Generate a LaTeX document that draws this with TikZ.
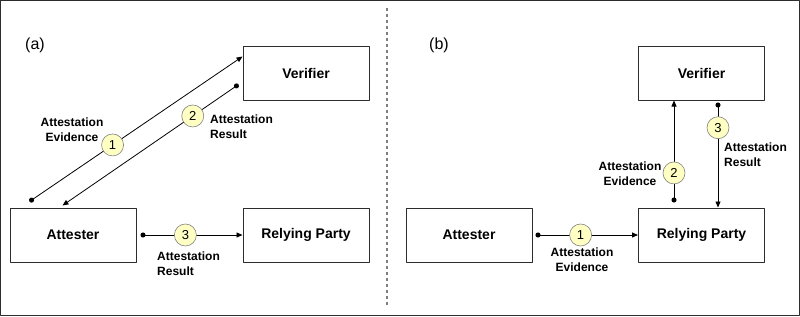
\documentclass[tikz,border=0pt]{standalone}
\usepackage{fontspec}
\setmainfont{Liberation Sans}
\usepackage{tikz}
\usetikzlibrary{arrows.meta, positioning, calc}
\definecolor{BadgeYellow}{RGB}{255, 255, 196}
\definecolor{LineGray}{RGB}{45, 45, 45}
\tikzset{every node/.style={font=\bfseries\fontsize{12}{15}\selectfont}, every path/.style={line cap=round, line join=round}, >={Triangle[length=6pt, width=5pt]}}
\tikzset{
    entity/.style={draw=LineGray, line width=1pt, minimum width=126pt, minimum height=54pt, inner sep=0pt, font=\bfseries\fontsize{14}{16}\selectfont},
    badge/.style={circle, draw=gray, line width=0.6pt, fill=BadgeYellow, minimum size=22pt, inner sep=0pt, font=\fontsize{13}{13}\selectfont},
    flow/.style={{Circle[length=5pt]}->, line width=0.8pt},
    msg/.style={align=left, inner sep=0pt},
    panel/.style={font=\fontsize{16}{18}\selectfont}
}

\begin{document}
\begin{tikzpicture}[x=1pt, y=-1pt]
    \useasboundingbox (0,0) rectangle (800,316);
    \draw [LineGray, line width=1.2pt] (0.6,0.6) rectangle (799.4,315.4);

    % (a) passport style
    \node [panel] (capA) at (35,45) {(a)};
    \node [entity] (verA) at (306,73) {Verifier};
    \node [entity] (attA) at (73,235) {Attester};
    \node [entity] (rpA) at (306,235) {Relying Party};

    \draw [flow] ($(attA.north west)+(20,-6)$) -- node [badge, pos=0.39] (a1) {1} ($(verA.north west)+(0,11)$);
    \draw [flow] ($(verA.south west)+(-4,-16)$) -- node [badge, pos=0.26] (a2) {2} ($(attA.north west)+(53,-2)$);
    \draw [flow] ($(attA.east)+(4,0)$) -- node [badge, pos=0.44] (a3) {3} (rpA.west);

    \node [msg, align=center] (evA) at (72,130) {Attestation\\Evidence};
    \node [msg, anchor=west] (resA) at (210,127) {Attestation\\Result};
    \node [msg, anchor=west] (resA2) at (157,264) {Attestation\\Result};

    % divider
    \coordinate (divTop) at (387,8);
    \coordinate (divBot) at (387,307);
    \draw [gray, line width=1.2pt, dash pattern=on 3pt off 3pt, line cap=butt] (divTop) -- (divBot);

    % (b) background check style
    \node [panel] (capB) at (439,45) {(b)};
    \node [entity] (verB) at (701.5,73) {Verifier};
    \node [entity] (attB) at (469,235) {Attester};
    \node [entity] (rpB) at (701.5,235) {Relying Party};

    \draw [flow] ($(attB.east)+(3,0)$) -- node [badge, pos=0.44] (b1) {1} (rpB.west);
    \draw [flow] ($(rpB.north west)+(36,-5)$) -- node [badge, pos=0.29] (b2) {2} ($(verB.south west)+(36,0)$);
    \draw [flow] ($(verB.south west)+(80,2)$) -- node [badge, pos=0.24] (b3) {3} ($(rpB.north west)+(80,0)$);

    \node [msg, align=center] (evB) at (582,260) {Attestation\\Evidence};
    \node [msg, align=center] (evB2) at (630,174) {Attestation\\Evidence};
    \node [msg, anchor=west] (resB) at (724,155) {Attestation\\Result};
\end{tikzpicture}
\end{document}
